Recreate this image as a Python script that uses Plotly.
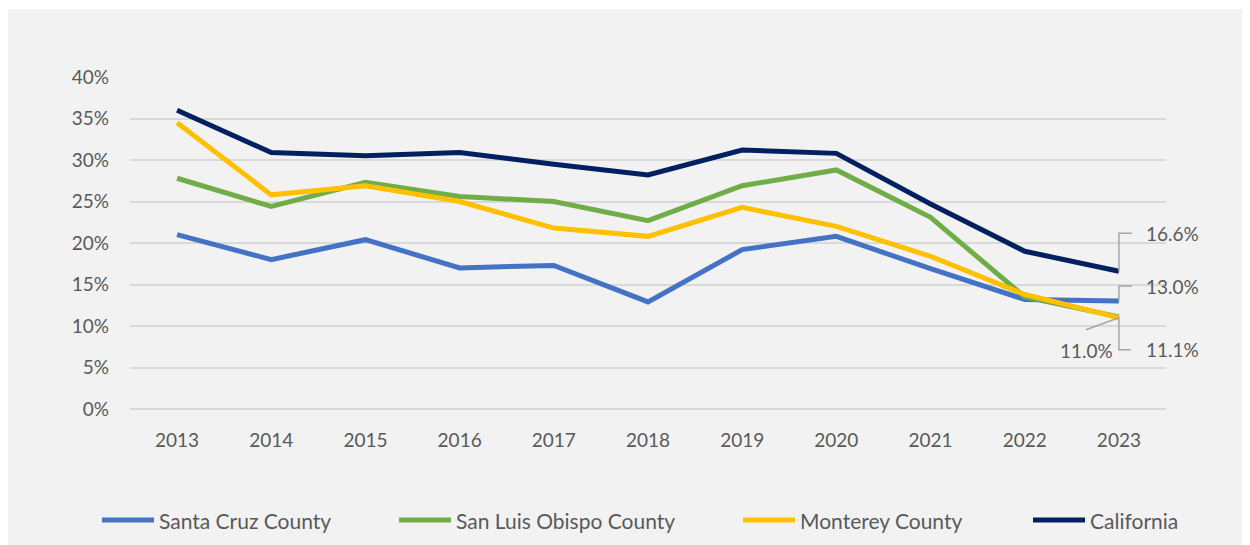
import plotly.graph_objects as go

years = [2013, 2014, 2015, 2016, 2017, 2018, 2019, 2020, 2021, 2022, 2023]
series_names = ["Santa Cruz County", "San Luis Obispo County", "Monterey County", "California"]
santa_cruz = [21.0, 18.0, 20.4, 17.0, 17.3, 12.9, 19.2, 20.8, 16.9, 13.2, 13.0]
san_luis_obispo = [27.8, 24.4, 27.3, 25.6, 25.0, 22.7, 26.9, 28.8, 23.1, 13.5, 11.1]
monterey = [34.5, 25.8, 26.9, 25.0, 21.8, 20.8, 24.3, 22.0, 18.4, 13.8, 11.0]
california = [36.0, 30.9, 30.5, 30.9, 29.5, 28.2, 31.2, 30.8, 24.7, 19.0, 16.6]
y_ticks = [0, 5, 10, 15, 20, 25, 30, 35, 40]
y_tick_labels = [f"{t}%" for t in y_ticks]

colors = ["#4472C4", "#70AD47", "#FFC000", "#002060"]
all_series = [santa_cruz, san_luis_obispo, monterey, california]

FONT = "Lato"
TXT = "#595959"

# figure geometry (page body adds an 8px offset)
W, H = 1242, 537
ML, MR, MT, MB = 122, 84, 69, 136
PW, PH = W - ML - MR, H - MT - MB
OFF = 8


def px_to_paper_x(px):
    return (px - OFF - ML) / PW


def px_to_paper_y(py):
    return 1 - (py - OFF - MT) / PH


fig = go.Figure()
for name, vals, col in zip(series_names, all_series, colors):
    fig.add_trace(go.Scatter(
        x=years, y=vals, name=name, mode="lines",
        line=dict(color=col, width=5),
        hoverinfo="skip", showlegend=False,
    ))

# data labels for the last point, with leader lines
last_x = years[-1]
label_specs = [
    (3, "left", 25, 38, "M0,0 L0,38 L13,38"),
    (0, "left", 25, 15, "M0,0 L0,15 L13,15"),
    (1, "left", 25, -33, "M0,0 L0,-33 L12,-33"),
    (2, "right", -4, -33, "M0,0 L-33,-12"),
]
annotations = []
shapes = []
for idx, side, sx, sy, path in label_specs:
    v = all_series[idx][-1]
    annotations.append(dict(
        x=last_x, y=v, xref="x", yref="y", text=f"{v:.1f}%",
        showarrow=False, xanchor=side, yanchor="middle",
        xshift=sx, yshift=sy,
        font=dict(family=FONT, size=19, color=TXT),
    ))
    shapes.append(dict(
        type="path", xref="x", yref="y",
        xsizemode="pixel", ysizemode="pixel",
        xanchor=last_x, yanchor=v, path=path,
        line=dict(color="#A6A6A6", width=1.5),
        layer="above",
    ))

# custom legend (line sample + label)
legend_starts = [100, 397, 741, 1031]
legend_y = 520
for name, col, x0 in zip(series_names, colors, legend_starts):
    shapes.append(dict(
        type="line", xref="paper", yref="paper",
        x0=px_to_paper_x(x0 + 2), x1=px_to_paper_x(x0 + 54),
        y0=px_to_paper_y(legend_y), y1=px_to_paper_y(legend_y),
        line=dict(color=col, width=5),
    ))
    annotations.append(dict(
        x=px_to_paper_x(x0 + 57), y=px_to_paper_y(legend_y),
        xref="paper", yref="paper", text=name, showarrow=False,
        xanchor="left", yanchor="middle",
        font=dict(family=FONT, size=21, color=TXT),
    ))

# 1px extra white at the top
shapes.append(dict(type="rect", xref="paper", yref="paper",
                   x0=-0.3, x1=1.3, y0=px_to_paper_y(9), y1=1.5,
                   fillcolor="white", line=dict(width=0), layer="below"))

fig.update_layout(
    width=W, height=H,
    margin=dict(l=ML, r=MR, t=MT, b=MB),
    paper_bgcolor="#F2F2F2", plot_bgcolor="#F2F2F2",
    font=dict(family=FONT, size=19, color=TXT),
    showlegend=False,
    annotations=annotations,
    shapes=shapes,
)
fig.update_xaxes(
    range=[2012.5, 2023.5], tickvals=years, ticktext=[str(y) for y in years],
    showgrid=False, zeroline=False, showline=False, ticks="",
    ticklabelstandoff=18,
    tickfont=dict(family=FONT, size=19, color=TXT),
)
fig.update_yaxes(
    range=[0, 40], tickvals=y_ticks, ticktext=y_tick_labels,
    showgrid=True, gridcolor="#D9D9D9", gridwidth=1.5,
    zeroline=True, zerolinecolor="#D9D9D9", zerolinewidth=1.5,
    showline=False, ticks="", ticklabelstandoff=20,
    tickfont=dict(family=FONT, size=19, color=TXT),
)

fig.write_html("out.html")
